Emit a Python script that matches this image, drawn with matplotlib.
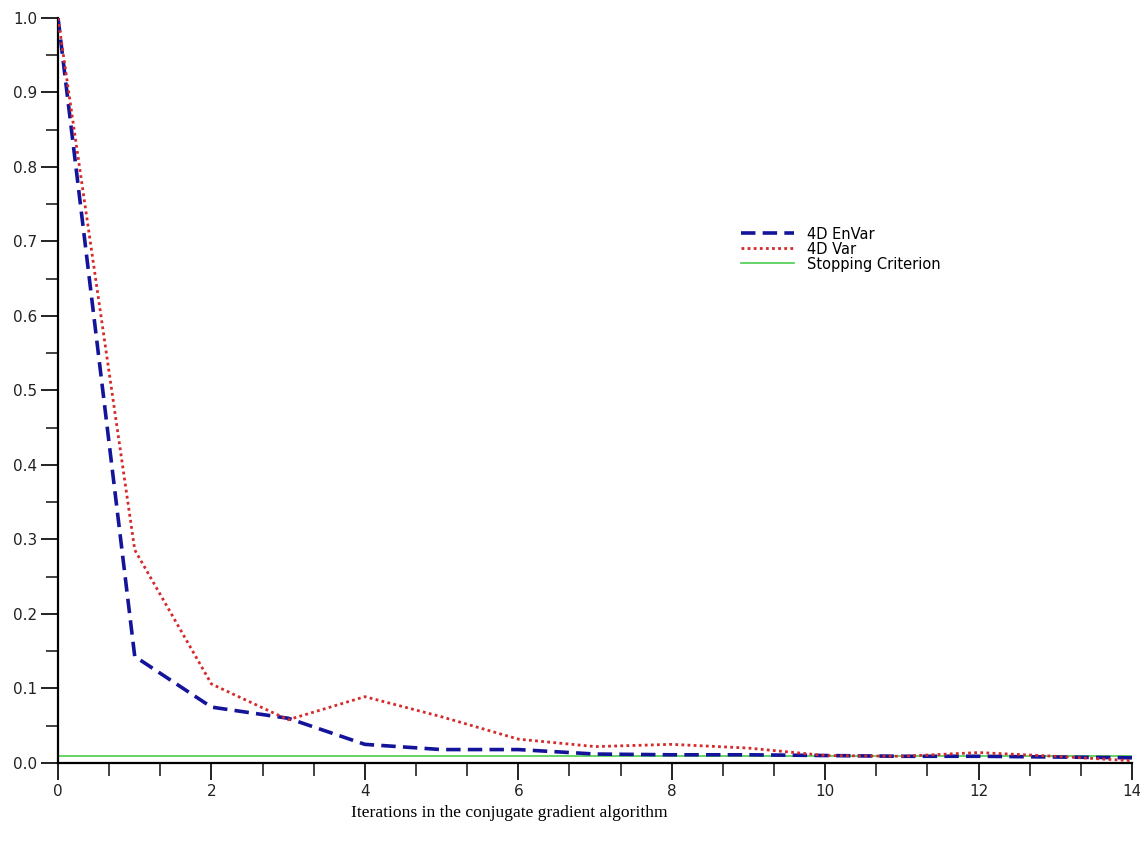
import numpy as np
import matplotlib
matplotlib.use("Agg")
import matplotlib.pyplot as plt
from matplotlib.ticker import MultipleLocator, FormatStrFormatter

# iterations of the conjugate gradient
iterations = [0, 1, 2, 3, 4, 5, 6, 7, 8, 9, 10, 11, 12, 13, 14]
# normalised residual
envar_4d = [1.0, 0.143, 0.075, 0.060, 0.025, 0.018, 0.018, 0.012,
            0.011, 0.011, 0.010, 0.009, 0.009, 0.008, 0.007]
var_4d = [1.0, 0.286, 0.106, 0.058, 0.089, 0.062, 0.032, 0.022,
          0.025, 0.020, 0.010, 0.009, 0.014, 0.009, 0.003]
stop_crit = 0.009

fig = plt.figure(figsize=(11.4, 8.47), dpi=100)
ax = fig.add_axes([0.0509, 0.0992, 0.9421, 0.8796])

ax.plot(iterations, envar_4d, color="#14149a", lw=2.6, ls=(0, (4, 2)),
        label="4D EnVar", zorder=3)
ax.plot(iterations, var_4d, color="#d42a2a", lw=2.0, ls=(0, (1, 1.2)),
        label="4D Var", zorder=3)
ax.axhline(stop_crit, color="#4ccc4c", lw=1.2, label="Stopping Criterion",
           zorder=2)

ax.set_xlim(0, 14)
ax.set_ylim(0, 1.0)
for s in ["top", "right"]:
    ax.spines[s].set_visible(False)
for s in ["left", "bottom"]:
    ax.spines[s].set_linewidth(1.6)

ax.xaxis.set_major_locator(MultipleLocator(2))
ax.xaxis.set_minor_locator(MultipleLocator(2 / 3))
ax.yaxis.set_major_locator(MultipleLocator(0.1))
ax.yaxis.set_minor_locator(MultipleLocator(0.05))
ax.yaxis.set_major_formatter(FormatStrFormatter("%.1f"))
ax.tick_params(which="major", length=12, width=1.4, labelsize=11,
               direction="out", pad=3, colors="#222222")
ax.tick_params(which="minor", length=9, width=1.2, direction="out",
               colors="#222222")
for lab in ax.get_xticklabels() + ax.get_yticklabels():
    lab.set_fontfamily("DejaVu Sans")

fig.text(0.447, 0.040, "Iterations in the conjugate gradient algorithm",
         ha="center", va="center", family="Liberation Serif", fontsize=12.6)

ax.legend(loc="upper left", bbox_to_anchor=(0.636, 0.72), frameon=False,
          prop={"family": "DejaVu Sans", "size": 10.5},
          handlelength=3.6, handletextpad=0.9, labelspacing=0.0,
          borderpad=0, borderaxespad=0)

fig.savefig("out.png", dpi=100)
